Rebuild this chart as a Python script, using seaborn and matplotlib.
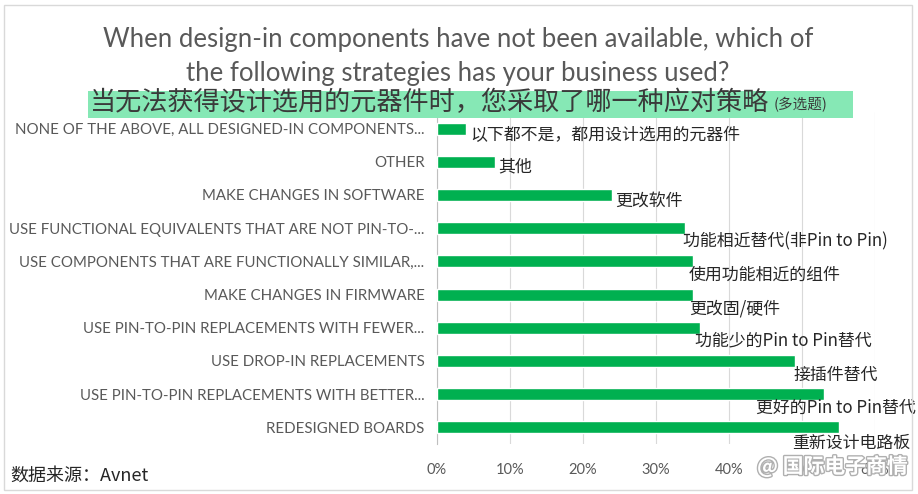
import pandas as pd
import seaborn as sns
import matplotlib.pyplot as plt
import matplotlib.patheffects as pe
from matplotlib.patches import Rectangle
from matplotlib.ticker import PercentFormatter

# categories (top to bottom) and share of respondents (%)
categories = [
    'NONE OF THE ABOVE, ALL DESIGNED-IN COMPONENTS...',
    'OTHER',
    'MAKE CHANGES IN SOFTWARE',
    'USE FUNCTIONAL EQUIVALENTS THAT ARE NOT PIN-TO-...',
    'USE COMPONENTS THAT ARE FUNCTIONALLY SIMILAR,...',
    'MAKE CHANGES IN FIRMWARE',
    'USE PIN-TO-PIN REPLACEMENTS WITH FEWER...',
    'USE DROP-IN REPLACEMENTS',
    'USE PIN-TO-PIN REPLACEMENTS WITH BETTER...',
    'REDESIGNED BOARDS',
]
values = [4, 8, 24, 34, 35, 35, 36, 49, 53, 55]
labels_cn = [
    '以下都不是，都用设计选用的元器件',
    '其他',
    '更改软件',
    '功能相近替代(非Pin to Pin)',
    '使用功能相近的组件',
    '更改固/硬件',
    '功能少的Pin to Pin替代',
    '接插件替代',
    '更好的Pin to Pin替代',
    '重新设计电路板',
]
x_ticks = [0, 10, 20, 30, 40, 50, 60]

# where each Chinese label sits relative to its bar end (pixels)
label_offsets = [(4, -6), (3, -5), (3, -6), (-2, -13), (-4, -13),
                 (-3, -14), (-5, -13), (-1, -14), (-68, -14), (-46, -15)]

df = pd.DataFrame({'Strategy': categories, 'Share': values})

sns.set_style('white')
plt.rcParams['font.family'] = ['Lato', 'Noto Sans CJK SC', 'DejaVu Sans']
cjk = ['Noto Sans CJK SC', 'DejaVu Sans']

W, H = 918, 494
fig = plt.figure(figsize=(W / 100, H / 100), dpi=100)
ax = fig.add_axes([437 / W, 1 - 444 / H, (875 - 437) / W, (444 - 112) / H])

sns.barplot(data=df, x='Share', y='Strategy', orient='h', color='#00b050',
            saturation=1, width=0.36, ax=ax, zorder=3)

ax.set_xlim(0, 60)
ax.set_xticks(x_ticks)
ax.xaxis.set_major_formatter(PercentFormatter(decimals=0))
ax.set_xlabel('')
ax.set_ylabel('')
ax.grid(axis='x', color='#d9d9d9', linewidth=0.8, zorder=0)
for s in ['top', 'right', 'bottom']:
    ax.spines[s].set_visible(False)
ax.spines['left'].set_color('#bfbfbf')
ax.spines['left'].set_linewidth(0.8)
ax.tick_params(axis='x', length=0, pad=14, labelsize=10.5, labelcolor='#595959')
ax.tick_params(axis='y', length=0, pad=9, labelsize=10.8, labelcolor='#595959')

for i, (v, txt) in enumerate(zip(values, labels_cn)):
    dx, dy = label_offsets[i]
    ax.annotate(txt, xy=(v, i), xytext=(dx, dy), textcoords='offset pixels',
                ha='left', va='center', fontsize=12.2, color='#262626',
                family=cjk, zorder=4)

# titles
fig.text(458 / W, 1 - 40 / H,
         'When design-in components have not been available, which of',
         ha='center', va='center', fontsize=18.5, color='#595959')
fig.text(458 / W, 1 - 73 / H,
         'the following strategies has your business used?',
         ha='center', va='center', fontsize=18.5, color='#595959')

fig.patches.append(Rectangle((88 / W, 1 - 118 / H), (853 - 88) / W, 27 / H,
                             transform=fig.transFigure, facecolor='#86e8b5',
                             edgecolor='none', zorder=0))
t_cn = fig.text(90 / W, 1 - 103 / H, '当无法获得设计选用的元器件时，您采取了哪一种应对策略',
                ha='left', va='center', fontsize=18.8, color='#3a3a3a', family=cjk)
fig.canvas.draw()
bb = t_cn.get_window_extent()
fig.text((bb.x1 + 4) / W, 1 - 105 / H, '(多选题)', ha='left', va='center',
         fontsize=10.5, color='#3a3a3a', family=cjk)

fig.text(10 / W, 1 - 476 / H, '数据来源：Avnet', ha='left', va='center',
         fontsize=13, color='#262626', family=cjk)

# watermark
fig.text(757 / W, 1 - 466 / H, '@ 国际电子商情', ha='left', va='center',
         fontsize=15, color='white', fontweight='bold', family=cjk, zorder=10,
         path_effects=[pe.withStroke(linewidth=2, foreground='#b0b0b0')])

# outer frame
fig.patches.append(Rectangle((4 / W, 1 - 490 / H), (912 - 4) / W, (490 - 5) / H,
                             transform=fig.transFigure, facecolor='none',
                             edgecolor='#d9d9d9', linewidth=1))

fig.savefig('out.png', dpi=100)
